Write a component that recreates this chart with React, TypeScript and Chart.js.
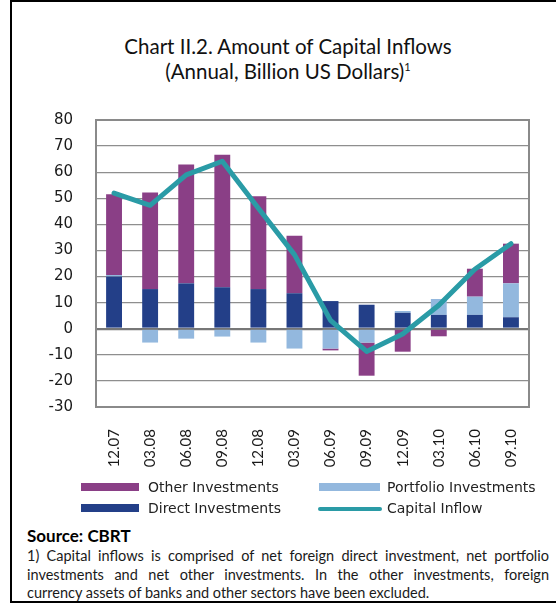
import React, { useEffect, useRef } from "react";
import { Chart, registerables } from "chart.js";

Chart.register(...registerables);

const categories = ["12.07", "03.08", "06.08", "09.08", "12.08", "03.09", "06.09", "09.09", "12.09", "03.10", "06.10", "09.10"];
const directInvestments = [20.0, 15.2, 17.4, 15.9, 15.2, 13.6, 10.6, 9.2, 6.1, 5.3, 5.3, 4.4];
const portfolioInvestments = [0.6, -5.3, -3.8, -3.0, -5.3, -7.6, -7.6, -5.3, 0.7, 6.1, 7.0, 13.0];
const otherInvestments = [30.9, 37.0, 45.5, 50.8, 35.6, 22.0, -0.7, -12.7, -8.8, -2.9, 10.7, 15.2];
const capitalInflow = [52.0, 47.3, 59.0, 64.2, 46.2, 28.4, 3.2, -8.7, -2.0, 9.0, 22.8, 32.6];
const yMin = -30;
const yMax = 80;
const yStep = 10;

const PURPLE = "#8a3f86";
const NAVY = "#233f88";
const LIGHT = "#93b8de";
const TEAL = "#2a9ba6";

const framePlugin = {
  id: "plotFrame",
  beforeDatasetsDraw(chart: any) {
    const { ctx, chartArea } = chart;
    ctx.save();
    ctx.strokeStyle = "#8a8a8a";
    ctx.lineWidth = 2;
    ctx.strokeRect(chartArea.left, chartArea.top, chartArea.right - chartArea.left, chartArea.bottom - chartArea.top);
    ctx.restore();
  },
};

export default function App() {
  const canvasRef = useRef<HTMLCanvasElement | null>(null);

  useEffect(() => {
    if (!canvasRef.current) return;
    const chart = new Chart(canvasRef.current, {
      type: "bar",
      data: {
        labels: categories,
        datasets: [
          {
            type: "line",
            label: "Capital Inflow",
            data: capitalInflow,
            borderColor: TEAL,
            backgroundColor: TEAL,
            borderWidth: 5,
            pointRadius: 0,
            tension: 0,
            borderJoinStyle: "round",
            borderCapStyle: "round",
            order: 0,
          } as any,
          {
            label: "Direct Investments",
            data: directInvestments,
            backgroundColor: NAVY,
            stack: "s",
            order: 1,
          },
          {
            label: "Portfolio Investments",
            data: portfolioInvestments,
            backgroundColor: LIGHT,
            stack: "s",
            order: 1,
          },
          {
            label: "Other Investments",
            data: otherInvestments,
            backgroundColor: PURPLE,
            stack: "s",
            order: 1,
          },
        ],
      },
      options: {
        responsive: false,
        devicePixelRatio: 1,
        animation: false,
        layout: { padding: { left: 0, right: 27, top: 16, bottom: 0 } },
        datasets: { bar: { barPercentage: 0.44, categoryPercentage: 1 } },
        plugins: { legend: { display: false }, tooltip: { enabled: false }, title: { display: false } },
        scales: {
          x: {
            stacked: true,
            grid: { display: false, drawTicks: false },
            border: { display: false },
            ticks: {
              minRotation: 90,
              maxRotation: 90,
              padding: 22,
              color: "#1a1a1a",
              font: { family: "Lato", size: 15 },
            },
            afterFit: (scale: any) => {
              scale.height = 73;
            },
          },
          y: {
            stacked: true,
            min: yMin,
            max: yMax,
            ticks: {
              stepSize: yStep,
              padding: 23,
              color: "#1a1a1a",
              font: { family: "DejaVu Sans", size: 15 },
            },
            grid: {
              drawTicks: false,
              color: (c: any) => (c.tick && c.tick.value === 0 ? "#777777" : "#8e8e8e"),
              lineWidth: (c: any) => (c.tick && c.tick.value === 0 ? 2.2 : 1.3),
            },
            border: { display: false },
            afterFit: (scale: any) => {
              scale.width = 96;
            },
          },
        },
      },
      plugins: [framePlugin],
    });
    return () => chart.destroy();
  }, []);

  const legendText: React.CSSProperties = {
    position: "absolute",
    fontFamily: "DejaVu Sans",
    fontSize: 14,
    lineHeight: "16px",
    color: "#222",
    whiteSpace: "nowrap",
  };
  const footLine: React.CSSProperties = {
    fontFamily: "Lato",
    fontSize: 14.5,
    lineHeight: "18.5px",
    color: "#1a1a1a",
    textAlign: "justify",
    whiteSpace: "nowrap",
  };

  return (
    <div style={{ position: "absolute", left: 0, top: 0, width: 556, height: 605, overflow: "hidden", background: "#fff" }}>
      <div style={{ position: "absolute", left: 10, top: 0, width: 546, height: 2, background: "#000" }} />
      <div style={{ position: "absolute", left: 10, top: 0, width: 2, height: 603, background: "#000" }} />
      <div style={{ position: "absolute", left: 10, top: 601, width: 546, height: 2, background: "#000" }} />

      <div
        style={{
          position: "absolute",
          left: 12,
          width: 552,
          top: 34,
          textAlign: "center",
          fontFamily: "Lato",
          fontSize: 20.5,
          lineHeight: "25px",
          color: "#111",
        }}
      >
        <div>Chart II.2. Amount of Capital Inflows</div>
        <div>
          (Annual, Billion US Dollars)
          <span style={{ fontSize: 11, position: "relative", top: -8 }}>1</span>
        </div>
      </div>

      <canvas ref={canvasRef} width={556} height={392} style={{ position: "absolute", left: 0, top: 88, display: "block" }} />

      <div style={{ position: "absolute", left: 81, top: 483, width: 58, height: 8, background: PURPLE }} />
      <div style={{ ...legendText, left: 148, top: 479 }}>Other Investments</div>
      <div style={{ position: "absolute", left: 319, top: 483, width: 61, height: 8, background: LIGHT }} />
      <div style={{ ...legendText, left: 387, top: 479 }}>Portfolio Investments</div>
      <div style={{ position: "absolute", left: 81, top: 504, width: 58, height: 8, background: NAVY }} />
      <div style={{ ...legendText, left: 148, top: 500 }}>Direct Investments</div>
      <div style={{ position: "absolute", left: 318, top: 507, width: 64, height: 3.5, borderRadius: 2, background: TEAL }} />
      <div style={{ ...legendText, left: 387, top: 500 }}>Capital Inflow</div>

      <div
        style={{
          position: "absolute",
          left: 27,
          top: 526,
          fontFamily: "Lato",
          fontWeight: 700,
          fontSize: 17,
          lineHeight: "20px",
          color: "#000",
        }}
      >
        Source: CBRT
      </div>
      <div style={{ position: "absolute", left: 27, top: 547, width: 522 }}>
        <div style={{ ...footLine, textAlignLast: "justify", whiteSpace: "normal" } as any}>
          1) Capital inflows is comprised of net foreign direct investment, net portfolio
        </div>
        <div style={{ ...footLine, textAlignLast: "justify", whiteSpace: "normal" } as any}>
          investments and net other investments. In the other investments, foreign
        </div>
        <div style={footLine}>currency assets of banks and other sectors have been excluded.</div>
      </div>
    </div>
  );
}
